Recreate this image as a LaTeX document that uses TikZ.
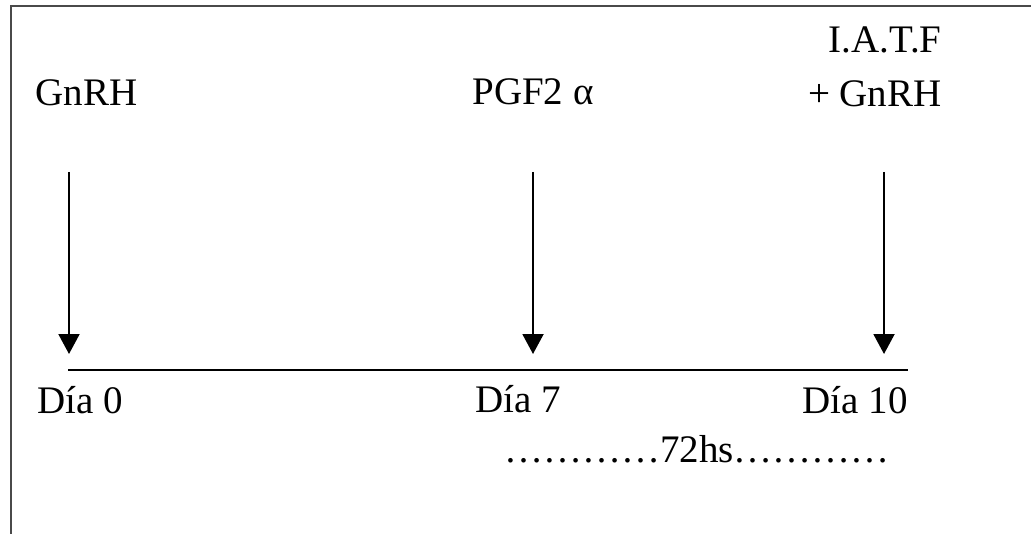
\documentclass[tikz,border=0pt]{standalone}
\usepackage{fontspec}
\setmainfont{Liberation Serif}
\usetikzlibrary{arrows.meta}
\definecolor{FrameGray}{HTML}{4A4A4A}

\begin{document}
\begin{tikzpicture}[x=0.5pt,y=-0.5pt,
    lbl/.style={inner sep=0pt,font=\fontsize{19.5}{23}\selectfont},
    dose/.style={line width=1pt,-{Triangle[length=10pt,width=10.5pt]}}]
  \useasboundingbox (0,0) rectangle (1031,534);
  % box around the scheme (only its left and top sides fall on the page)
  \draw[FrameGray,line width=1.3pt] (11,540) -- (11,6) -- (1040,6);
  % time line
  \coordinate (t0) at (68,370);
  \coordinate (t1) at (908,370);
  \draw[line width=1pt] (t0) -- (t1);
  % treatments
  \node[lbl,anchor=base west] (gnrh) at (35,106) {GnRH};
  \node[lbl,anchor=base west] (pgf) at (472,105) {PGF2 α};
  \node[lbl,anchor=base east] (iatf) at (942,53) {I.A.T.F};
  \node[lbl,anchor=base east] (gnrhb) at (942,107) {+ GnRH};
  \foreach \x/\n in {69/a,533/b,884/c}{
    \coordinate (top\n) at (\x,172);
    \coordinate (tip\n) at (\x,354);
    \draw[dose] (top\n) -- (tip\n);
  }
  % days
  \node[lbl,anchor=base west] (dia0) at (37,413) {Día 0};
  \node[lbl,anchor=base west] (dia7) at (475,412) {Día 7};
  \node[lbl,anchor=base east] (dia10) at (908,413) {Día 10};
  \node[lbl,anchor=base] (hs) at (697,462) {…………72hs…………};
\end{tikzpicture}
\end{document}
